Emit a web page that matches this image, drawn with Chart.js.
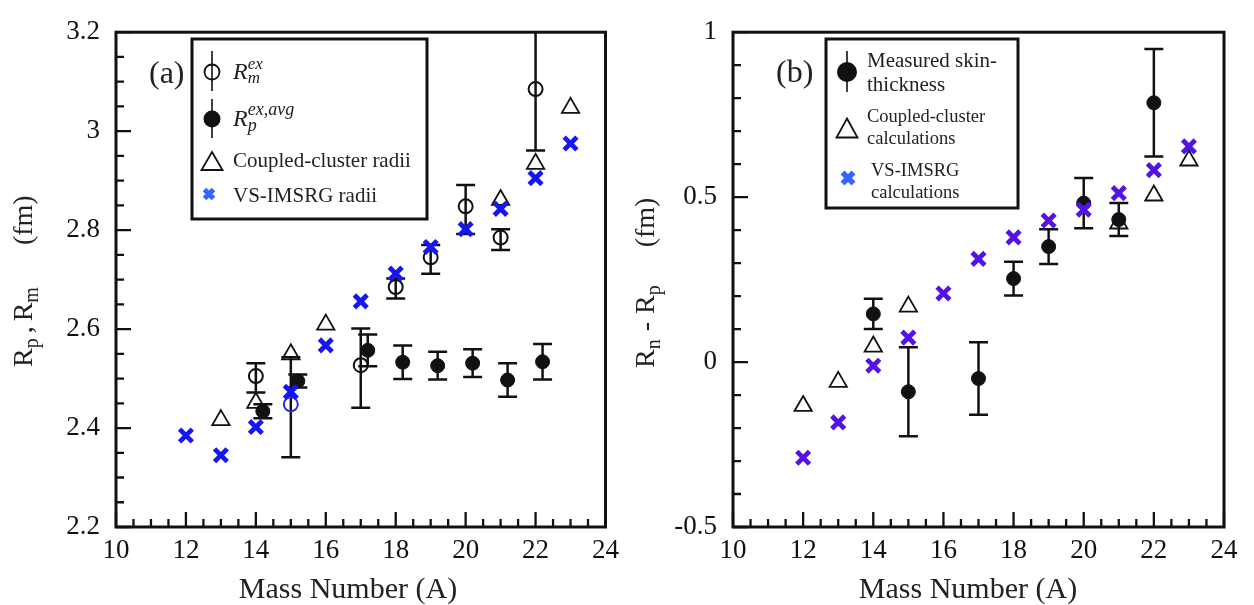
<!DOCTYPE html>
<html>
<head>
<meta charset="utf-8">
<script src="https://cdn.jsdelivr.net/npm/chart.js@4.4.0/dist/chart.umd.min.js"></script>
<style>
  html, body { margin: 0; background: #fff; }
  #wrap { position: relative; width: 1254px; height: 605px; }
  canvas { position: absolute; top: 0; }
  #left { left: 0; }
  #right { left: 627px; }
</style>
</head>
<body>
<div id="wrap">
  <canvas id="left" width="627" height="605"></canvas>
  <canvas id="right" width="627" height="605"></canvas>
</div>
<script>
// Panel (a): radii vs mass number. Panel (b): neutron skin thickness.

// --- panel (a) data ---
const vsA = [12, 13, 14, 15, 16, 17, 18, 19, 20, 21, 22, 23];
const vsRadii = [2.385, 2.345, 2.402, 2.473, 2.567, 2.656, 2.712, 2.766, 2.802, 2.843, 2.905, 2.975];
const ccRadiiA = [13, 14, 15, 16, 21, 22, 23];
const ccRadii = [2.416, 2.451, 2.549, 2.609, 2.861, 2.934, 3.047];
const rmA = [14, 15, 17, 18, 19, 20, 21, 22];
const rmVal = [2.505, 2.448, 2.527, 2.685, 2.745, 2.848, 2.785, 3.085];
const rmErrUp = [0.026, 0.095, 0.074, 0.017, 0.025, 0.043, 0.017, 0.124];
const rmErrDown = [0.033, 0.107, 0.086, 0.023, 0.033, 0.056, 0.025, 0.124];
const rpA = [14.2, 15.2, 17.2, 18.2, 19.2, 20.2, 21.2, 22.2];
const rpVal = [2.434, 2.495, 2.557, 2.533, 2.526, 2.531, 2.497, 2.534];
const rpErr = [0.014, 0.013, 0.032, 0.034, 0.028, 0.028, 0.034, 0.036];

// --- panel (b) data ---
const vsSkinA = [12, 13, 14, 15, 16, 17, 18, 19, 20, 21, 22, 23];
const vsSkin = [-0.290, -0.183, -0.011, 0.074, 0.208, 0.313, 0.378, 0.429, 0.462, 0.512, 0.582, 0.654];
const ccSkinA = [12, 13, 14, 15, 21, 22, 23];
const ccSkin = [-0.133, -0.060, 0.047, 0.168, 0.420, 0.505, 0.611];
const skinA = [14, 15, 17, 18, 19, 20, 21, 22];
const skinVal = [0.146, -0.090, -0.050, 0.253, 0.350, 0.482, 0.432, 0.786];
const skinErr = [0.046, 0.135, 0.110, 0.051, 0.053, 0.076, 0.050, 0.163];

// axis ticks
const xTicks = { min: 10, max: 24, major: 2, minor: 0.5 };
const yTicksA = { min: 2.2, max: 3.2, major: 0.2, minor: 0.05 };
const yTicksB = { min: -0.5, max: 1, major: 0.5, minor: 0.1 };

const SERIF = '"Liberation Serif", "Times New Roman", serif';
const INK = "#111";
const TXT = "#222";
const BLUE_A = "#1616ee";
const BLUE_B = "#5212e8";
const BLUE_LEG = "#3366ff";

const pts = (xs, ys) => xs.map((x, i) => ({ x, y: ys[i] }));
const fmtTick = (v) => String(+Number(v).toFixed(2));

// ---------- drawing helpers ----------
function rich(ctx, x, y, parts) {
  let cx = x;
  for (const p of parts) {
    if (p.gap) { cx += p.gap; continue; }
    ctx.font = `${p.italic ? "italic " : ""}${p.size}px ${SERIF}`;
    ctx.fillText(p.t, cx, y + (p.dy || 0));
    if (!p.hold) cx += ctx.measureText(p.t).width;
  }
}

function cross(ctx, x, y, h, color, lw) {
  ctx.save();
  ctx.strokeStyle = color; ctx.lineWidth = lw;
  ctx.beginPath();
  ctx.moveTo(x - h, y - h); ctx.lineTo(x + h, y + h);
  ctx.moveTo(x - h, y + h); ctx.lineTo(x + h, y - h);
  ctx.stroke();
  ctx.restore();
}

function tri(ctx, x, y, w, h) {
  ctx.save();
  ctx.strokeStyle = INK; ctx.lineWidth = 1.8;
  ctx.beginPath();
  ctx.moveTo(x, y - h / 2); ctx.lineTo(x + w / 2, y + h / 2); ctx.lineTo(x - w / 2, y + h / 2);
  ctx.closePath(); ctx.stroke();
  ctx.restore();
}

function dotWithBar(ctx, x, y, r, filled, y0, y1) {
  ctx.save();
  ctx.strokeStyle = INK; ctx.fillStyle = INK; ctx.lineWidth = 1.6;
  ctx.beginPath(); ctx.moveTo(x, y0); ctx.lineTo(x, y1); ctx.stroke();
  ctx.beginPath(); ctx.arc(x, y, r, 0, Math.PI * 2);
  if (filled) ctx.fill(); else { ctx.lineWidth = 1.8; ctx.stroke(); }
  ctx.restore();
}

function box(ctx, x0, y0, x1, y1) {
  ctx.save();
  ctx.strokeStyle = INK; ctx.lineWidth = 3;
  ctx.strokeRect(x0, y0, x1 - x0, y1 - y0);
  ctx.restore();
}

function vTitle(ctx, bx, by, parts) {
  ctx.save();
  ctx.translate(bx, by);
  ctx.rotate(-Math.PI / 2);
  ctx.fillStyle = TXT; ctx.textBaseline = "alphabetic"; ctx.textAlign = "left";
  rich(ctx, 0, 0, parts);
  ctx.restore();
}

function steps(min, max, step) {
  const n = Math.round((max - min) / step);
  return Array.from({ length: n + 1 }, (_, i) => min + i * step);
}
const isMajor = (v, m) => Math.abs(v / m - Math.round(v / m)) < 1e-6;

const decor = {
  id: "decor",
  beforeDatasetsDraw(chart, args, o) {
    const { ctx, chartArea: a, scales: { x, y } } = chart;
    ctx.save();
    ctx.beginPath(); ctx.rect(a.left, a.top, a.right - a.left, a.bottom - a.top); ctx.clip();
    ctx.strokeStyle = INK; ctx.lineWidth = 2.5;
    for (const s of o.errors) {
      s.x.forEach((xv, i) => {
        const px = x.getPixelForValue(xv);
        const hi = y.getPixelForValue(s.y[i] + s.up[i]);
        const lo = y.getPixelForValue(s.y[i] - s.down[i]);
        ctx.beginPath();
        ctx.moveTo(px, hi); ctx.lineTo(px, lo);
        ctx.moveTo(px - 9.5, hi); ctx.lineTo(px + 9.5, hi);
        ctx.moveTo(px - 9.5, lo); ctx.lineTo(px + 9.5, lo);
        ctx.stroke();
      });
    }
    ctx.restore();
  },
  afterDraw(chart, args, o) {
    const { ctx, chartArea: a, scales: { x, y } } = chart;
    ctx.save();
    ctx.strokeStyle = INK; ctx.lineWidth = 3;
    ctx.strokeRect(a.left, a.top, a.right - a.left, a.bottom - a.top);
    ctx.lineWidth = 2.3;
    ctx.beginPath();
    steps(xTicks.min, xTicks.max, xTicks.minor).forEach((v) => {
      const px = x.getPixelForValue(v);
      ctx.moveTo(px, a.bottom); ctx.lineTo(px, a.bottom - (isMajor(v, xTicks.major) ? 15 : 8));
    });
    steps(o.yt.min, o.yt.max, o.yt.minor).forEach((v) => {
      const py = y.getPixelForValue(v);
      ctx.moveTo(a.left, py); ctx.lineTo(a.left + (isMajor(v, o.yt.major) ? 15 : 8), py);
    });
    ctx.stroke();
    ctx.restore();

    ctx.save();
    ctx.fillStyle = TXT; ctx.textBaseline = "alphabetic"; ctx.textAlign = "center";
    ctx.font = `30px ${SERIF}`;
    ctx.fillText("Mass Number (A)", o.xTitleX, 598);
    ctx.restore();
    o.extra(ctx);
  },
};

function makeChart(id, datasets, yt, yWidth, padRight, decorOpts) {
  const tickFont = { family: SERIF, size: 27 };
  return new Chart(document.getElementById(id), {
    type: "scatter",
    data: { datasets },
    options: {
      responsive: false,
      animation: false,
      events: [],
      layout: { padding: { top: 25, right: padRight, left: 0, bottom: 0 } },
      plugins: { legend: { display: false }, tooltip: { enabled: false }, decor: { ...decorOpts, yt } },
      scales: {
        x: {
          type: "linear", min: xTicks.min, max: xTicks.max,
          afterFit: (s) => { s.height = 78; },
          grid: { display: false, drawTicks: false }, border: { display: false },
          ticks: { stepSize: xTicks.major, padding: 8, font: tickFont, color: INK, callback: fmtTick },
        },
        y: {
          type: "linear", min: yt.min, max: yt.max,
          afterFit: (s) => { s.width = yWidth; },
          grid: { display: false, drawTicks: false }, border: { display: false },
          ticks: { stepSize: yt.major, padding: 16, font: tickFont, color: INK, callback: fmtTick },
        },
      },
    },
    plugins: [decor],
  });
}

// ---------- panel (a) ----------
makeChart("left", [
  { label: "VS-IMSRG radii", data: pts(vsA, vsRadii), pointStyle: "crossRot", pointRadius: 9,
    pointBorderWidth: 4.8, pointBorderColor: BLUE_A, pointBackgroundColor: BLUE_A, order: 0 },
  { label: "Coupled-cluster radii", data: pts(ccRadiiA, ccRadii), pointStyle: "triangle", pointRadius: 10,
    pointBorderWidth: 1.8, pointBorderColor: INK, pointBackgroundColor: "rgba(0,0,0,0)", order: 1 },
  { label: "Rm ex", data: pts(rmA, rmVal), pointStyle: "circle", pointRadius: 7,
    pointBorderWidth: 2, pointBackgroundColor: "rgba(0,0,0,0)",
    pointBorderColor: (c) => (rmA[c.dataIndex] === 15 ? "#2a2aee" : INK), order: 2 },
  { label: "Rp ex,avg", data: pts(rpA, rpVal), pointStyle: "circle", pointRadius: 7,
    pointBorderWidth: 1, pointBorderColor: INK, pointBackgroundColor: INK, order: 3 },
], yTicksA, 116, 20, {
  errors: [
    { x: rmA, y: rmVal, up: rmErrUp, down: rmErrDown },
    { x: rpA, y: rpVal, up: rpErr, down: rpErr },
  ],
  xTitleX: 348,
  extra(ctx) {
    ctx.save();
    ctx.fillStyle = TXT;
    ctx.font = `32px ${SERIF}`;
    ctx.fillText("(a)", 149, 83);
    box(ctx, 192, 39, 427, 219);
    dotWithBar(ctx, 212, 72, 7.5, false, 51, 91);
    rich(ctx, 233, 79, [
      { t: "R", size: 24, italic: true },
      { t: "ex", size: 17, italic: true, dy: -10, hold: true },
      { t: "m", size: 17, italic: true, dy: 4 },
    ]);
    dotWithBar(ctx, 212, 119, 8.5, true, 99, 138);
    rich(ctx, 233, 126, [
      { t: "R", size: 24, italic: true },
      { t: "ex,avg", size: 18, italic: true, dy: -11, hold: true },
      { t: "p", size: 18, italic: true, dy: 5 },
    ]);
    tri(ctx, 212, 161, 21, 18);
    rich(ctx, 233, 167, [{ t: "Coupled-cluster radii", size: 21 }]);
    cross(ctx, 209, 194, 4.5, BLUE_LEG, 5);
    rich(ctx, 233, 202, [{ t: "VS-IMSRG radii", size: 21 }]);
    ctx.restore();
    vTitle(ctx, 32, 367, [
      { t: "R", size: 28 }, { t: "p", size: 20, dy: 6 }, { gap: 5 },
      { t: ",", size: 28 }, { gap: 5 },
      { t: "R", size: 28 }, { t: "m", size: 20, dy: 6 }, { gap: 42 },
      { t: "(fm)", size: 28 },
    ]);
  },
});

// ---------- panel (b) ----------
makeChart("right", [
  { label: "VS-IMSRG calculations", data: pts(vsSkinA, vsSkin), pointStyle: "crossRot", pointRadius: 9,
    pointBorderWidth: 4.8, pointBorderColor: BLUE_B, pointBackgroundColor: BLUE_B, order: 0 },
  { label: "Coupled-cluster calculations", data: pts(ccSkinA, ccSkin), pointStyle: "triangle", pointRadius: 10,
    pointBorderWidth: 1.8, pointBorderColor: INK, pointBackgroundColor: "rgba(0,0,0,0)", order: 1 },
  { label: "Measured skin-thickness", data: pts(skinA, skinVal), pointStyle: "circle", pointRadius: 7,
    pointBorderWidth: 1, pointBorderColor: INK, pointBackgroundColor: INK, order: 2 },
], yTicksB, 106, 30, {
  errors: [{ x: skinA, y: skinVal, up: skinErr, down: skinErr }],
  xTitleX: 968 - 627,
  extra(ctx) {
    ctx.save();
    ctx.fillStyle = TXT;
    ctx.font = `32px ${SERIF}`;
    ctx.fillText("(b)", 776 - 627, 82);
    const ox = -627;
    box(ctx, 826 + ox, 39, 1018 + ox, 208);
    dotWithBar(ctx, 847 + ox, 72, 10, true, 51, 92);
    rich(ctx, 867 + ox, 67, [{ t: "Measured skin-", size: 21 }]);
    rich(ctx, 867 + ox, 91, [{ t: "thickness", size: 21 }]);
    tri(ctx, 847 + ox, 128, 21, 19);
    rich(ctx, 867 + ox, 122, [{ t: "Coupled-cluster", size: 18.5 }]);
    rich(ctx, 867 + ox, 144, [{ t: "calculations", size: 18.5 }]);
    cross(ctx, 848 + ox, 178, 5.5, BLUE_LEG, 5.5);
    rich(ctx, 871 + ox, 176, [{ t: "VS-IMSRG", size: 18.5 }]);
    rich(ctx, 871 + ox, 198, [{ t: "calculations", size: 18.5 }]);
    ctx.restore();
    vTitle(ctx, 654 + ox, 368, [
      { t: "R", size: 28 }, { t: "n", size: 20, dy: 6 }, { gap: 8 },
      { t: "-", size: 28 }, { gap: 8 },
      { t: "R", size: 28 }, { t: "p", size: 20, dy: 6 }, { gap: 38 },
      { t: "(fm)", size: 28 },
    ]);
  },
});
</script>
</body>
</html>
